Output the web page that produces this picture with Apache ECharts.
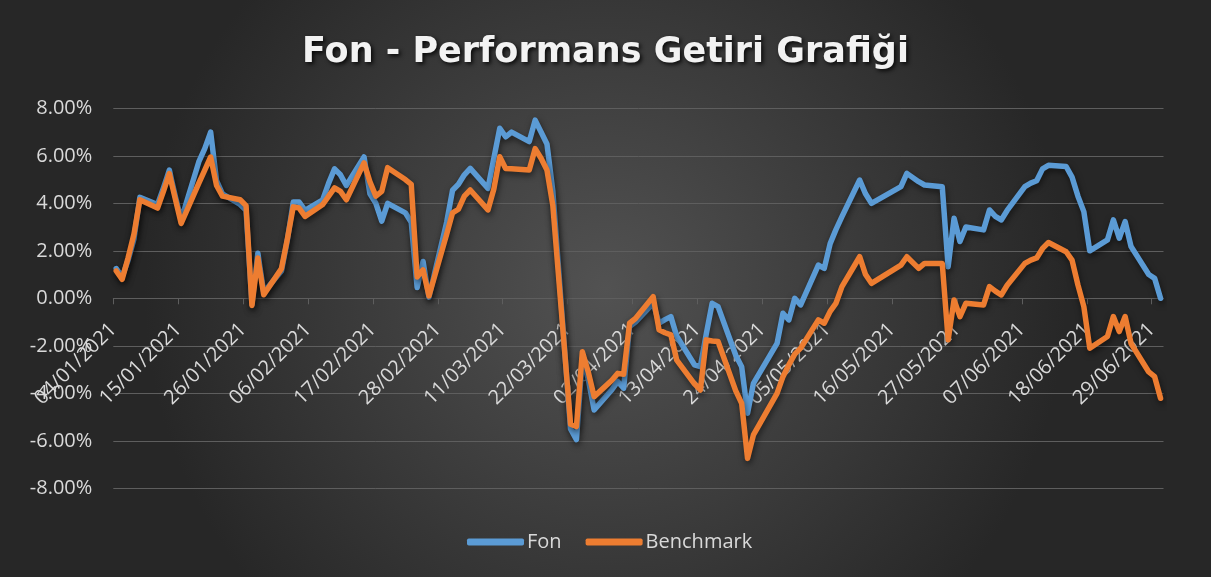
<!DOCTYPE html>
<html>
<head>
<meta charset="utf-8">
<script src="https://cdn.jsdelivr.net/npm/echarts@6/dist/echarts.min.js"></script>
<style>
html,body{margin:0;padding:0;background:#ffffff;}
#chart{width:1211px;height:577px;}
</style>
</head>
<body>
<div id="chart"></div>
<script>
const dates = [
'04/01/2021','05/01/2021','06/01/2021','07/01/2021','08/01/2021','11/01/2021','12/01/2021','13/01/2021','14/01/2021','15/01/2021',
'18/01/2021','19/01/2021','20/01/2021','21/01/2021','22/01/2021','25/01/2021','26/01/2021','27/01/2021','28/01/2021','29/01/2021',
'01/02/2021','02/02/2021','03/02/2021','04/02/2021','05/02/2021','08/02/2021','09/02/2021','10/02/2021','11/02/2021','12/02/2021',
'15/02/2021','16/02/2021','17/02/2021','18/02/2021','19/02/2021','22/02/2021','23/02/2021','24/02/2021','25/02/2021','26/02/2021',
'01/03/2021','02/03/2021','03/03/2021','04/03/2021','05/03/2021','08/03/2021','09/03/2021','10/03/2021','11/03/2021','12/03/2021',
'15/03/2021','16/03/2021','17/03/2021','18/03/2021','19/03/2021','22/03/2021','23/03/2021','24/03/2021','25/03/2021','26/03/2021',
'29/03/2021','30/03/2021','31/03/2021','01/04/2021','02/04/2021','05/04/2021','06/04/2021','07/04/2021','08/04/2021','09/04/2021',
'12/04/2021','13/04/2021','14/04/2021','15/04/2021','16/04/2021','19/04/2021','20/04/2021','21/04/2021','22/04/2021','26/04/2021',
'27/04/2021','28/04/2021','29/04/2021','30/04/2021','03/05/2021','04/05/2021','05/05/2021','06/05/2021','07/05/2021','10/05/2021',
'11/05/2021','12/05/2021','17/05/2021','18/05/2021','20/05/2021','21/05/2021','24/05/2021','25/05/2021','26/05/2021','27/05/2021',
'28/05/2021','31/05/2021','01/06/2021','02/06/2021','03/06/2021','04/06/2021','07/06/2021','08/06/2021','09/06/2021','10/06/2021',
'11/06/2021','14/06/2021','15/06/2021','16/06/2021','17/06/2021','18/06/2021','21/06/2021','22/06/2021','23/06/2021','24/06/2021',
'25/06/2021','28/06/2021','29/06/2021','30/06/2021'
];
const fon = [
1.25,0.9,1.6,2.5,4.25,3.95,4.65,5.4,4.3,3.3,
5.75,6.3,7.0,4.95,4.4,3.95,3.7,-0.25,1.9,0.25,
1.15,2.45,4.05,4.05,3.7,4.15,4.85,5.45,5.2,4.75,
5.95,4.4,4.0,3.25,4.0,3.6,3.2,0.45,1.55,0.05,
3.2,4.55,4.8,5.2,5.47,4.63,5.9,7.16,6.8,7.0,
6.6,7.5,7.0,6.5,4.5,-5.5,-5.95,-2.5,-3.4,-4.7,
-3.85,-3.5,-3.79,-1.19,-1.0,-0.21,-1.05,-0.9,-0.77,-1.6,
-2.8,-2.88,-1.5,-0.21,-0.35,-2.4,-2.88,-4.84,-3.58,-1.9,
-0.63,-0.91,0.0,-0.28,1.4,1.26,2.3,2.9,3.44,4.98,
4.4,4.0,4.7,5.26,4.91,4.77,4.7,1.33,3.37,2.39,
3.0,2.88,3.72,3.45,3.3,3.7,4.7,4.85,4.95,5.45,
5.6,5.55,5.1,4.3,3.65,2.0,2.46,3.3,2.53,3.23,
2.18,1.0,0.84,0.0
];
const benchmark = [
1.15,0.8,1.7,2.7,4.15,3.8,4.5,5.25,4.2,3.15,
4.85,5.4,5.95,4.75,4.3,4.15,3.9,-0.3,1.7,0.15,
1.25,2.5,3.85,3.8,3.45,3.95,4.3,4.65,4.5,4.15,
5.7,4.9,4.3,4.5,5.5,5.0,4.8,0.9,1.2,0.1,
2.7,3.6,3.75,4.3,4.56,3.72,4.6,5.96,5.47,5.45,
5.4,6.3,5.9,5.4,3.9,-5.3,-5.4,-2.25,-3.1,-4.14,
-3.45,-3.16,-3.2,-1.05,-0.85,0.07,-1.33,-1.45,-1.54,-2.6,
-3.6,-3.86,-1.75,-1.8,-1.82,-3.9,-4.42,-6.74,-5.75,-4.0,
-3.3,-2.8,-2.35,-2.1,-0.91,-1.05,-0.55,-0.2,0.49,1.75,
1.0,0.63,1.4,1.75,1.26,1.47,1.47,-1.75,-0.07,-0.77,
-0.21,-0.28,0.49,0.3,0.14,0.55,1.47,1.61,1.7,2.1,
2.35,1.96,1.61,0.56,-0.35,-2.1,-1.61,-0.77,-1.4,-0.77,
-1.9,-3.1,-3.3,-4.21
];
const xTickLabels = ['04/01/2021','15/01/2021','26/01/2021','06/02/2021','17/02/2021','28/02/2021','11/03/2021','22/03/2021','02/04/2021','13/04/2021','24/04/2021','05/05/2021','16/05/2021','27/05/2021','07/06/2021','18/06/2021','29/06/2021'];
const seriesNames = ['Fon','Benchmark'];
const titleText = 'Fon - Performans Getiri Grafiği';

function toUTC(s){const p=s.split('/');return Date.UTC(+p[2],+p[1]-1,+p[0]);}
const t0 = toUTC(dates[0]);
const DAY = 86400000;
function dayOf(s){return Math.round((toUTC(s)-t0)/DAY);}
const labelByDay = {};
xTickLabels.forEach(l=>{labelByDay[dayOf(l)] = l;});
const tickDays = xTickLabels.map(dayOf);
// Excel date axis: each point sits in the middle of its day slot
const fonData = dates.map((d,i)=>[dayOf(d)+0.5, fon[i]]);
const benchData = dates.map((d,i)=>[dayOf(d)+0.5, benchmark[i]]);
const lastDay = dayOf(dates[dates.length-1]) + 1;

const gridTop = 108.3, gridBottom = 88.7, H = 577;
const yMin = -8, yMax = 8;
// axis crosses at value 0: shift the bottom axis up by the distance from the bottom to the zero line
const zeroShift = (H - gridTop - gridBottom) * (0 - yMin) / (yMax - yMin);

const chart = echarts.init(document.getElementById('chart'), null, {renderer:'canvas'});
const lineShadow = {shadowColor:'rgba(0,0,0,0.55)', shadowBlur:6, shadowOffsetX:1, shadowOffsetY:3};
chart.setOption({
  animation:false,
  backgroundColor:{type:'radial', x:0.5, y:0.5, r:0.8, colorStops:[{offset:0,color:'#525252'},{offset:1,color:'#272727'}]},
  title:{
    text:titleText, left:'center', top:30,
    textStyle:{fontFamily:'DejaVu Sans', fontWeight:'bold', fontSize:35, color:'#f2f2f2',
      textShadowColor:'rgba(0,0,0,0.85)', textShadowBlur:4, textShadowOffsetX:2, textShadowOffsetY:2}
  },
  legend:{
    data:seriesNames, left:462, top:527, itemWidth:57, itemHeight:7, itemGap:24, icon:'roundRect',
    textStyle:{fontFamily:'Open Sans', fontSize:20, color:'#d9d9d9', padding:[0,0,0,-2]}
  },
  grid:{left:113.3, right:47.5, top:gridTop, bottom:gridBottom, containLabel:false, outerBoundsMode:'none'},
  xAxis:{
    type:'value', min:0, max:lastDay, interval:11, position:'bottom', offset:-zeroShift,
    axisLine:{onZero:false, lineStyle:{color:'#5e5e5e', width:1}},
    axisTick:{show:true, length:6, inside:false, customValues:tickDays, lineStyle:{color:'#5e5e5e'}},
    splitLine:{show:false},
    axisLabel:{rotate:45, margin:28, customValues:tickDays, fontFamily:'Open Sans', fontSize:20, color:'#d9d9d9',
      formatter:v=>labelByDay[Math.round(v)]||''}
  },
  yAxis:{
    type:'value', min:yMin, max:yMax, interval:2,
    axisLine:{show:false, onZero:false}, axisTick:{show:false},
    splitLine:{lineStyle:{color:'#5e5e5e', width:1}},
    axisLabel:{margin:21, fontFamily:'Open Sans', fontSize:20, color:'#d9d9d9', formatter:v=>v.toFixed(2)+'%'}
  },
  series:[
    {name:seriesNames[0], type:'line', data:fonData, showSymbol:false, symbol:'none', color:'#5B9BD5',
      lineStyle:Object.assign({width:5.5, color:'#5B9BD5', join:'round', cap:'round'}, lineShadow), z:2},
    {name:seriesNames[1], type:'line', data:benchData, showSymbol:false, symbol:'none', color:'#ED7D31',
      lineStyle:Object.assign({width:5.5, color:'#ED7D31', join:'round', cap:'round'}, lineShadow), z:3}
  ]
});
</script>
</body>
</html>
